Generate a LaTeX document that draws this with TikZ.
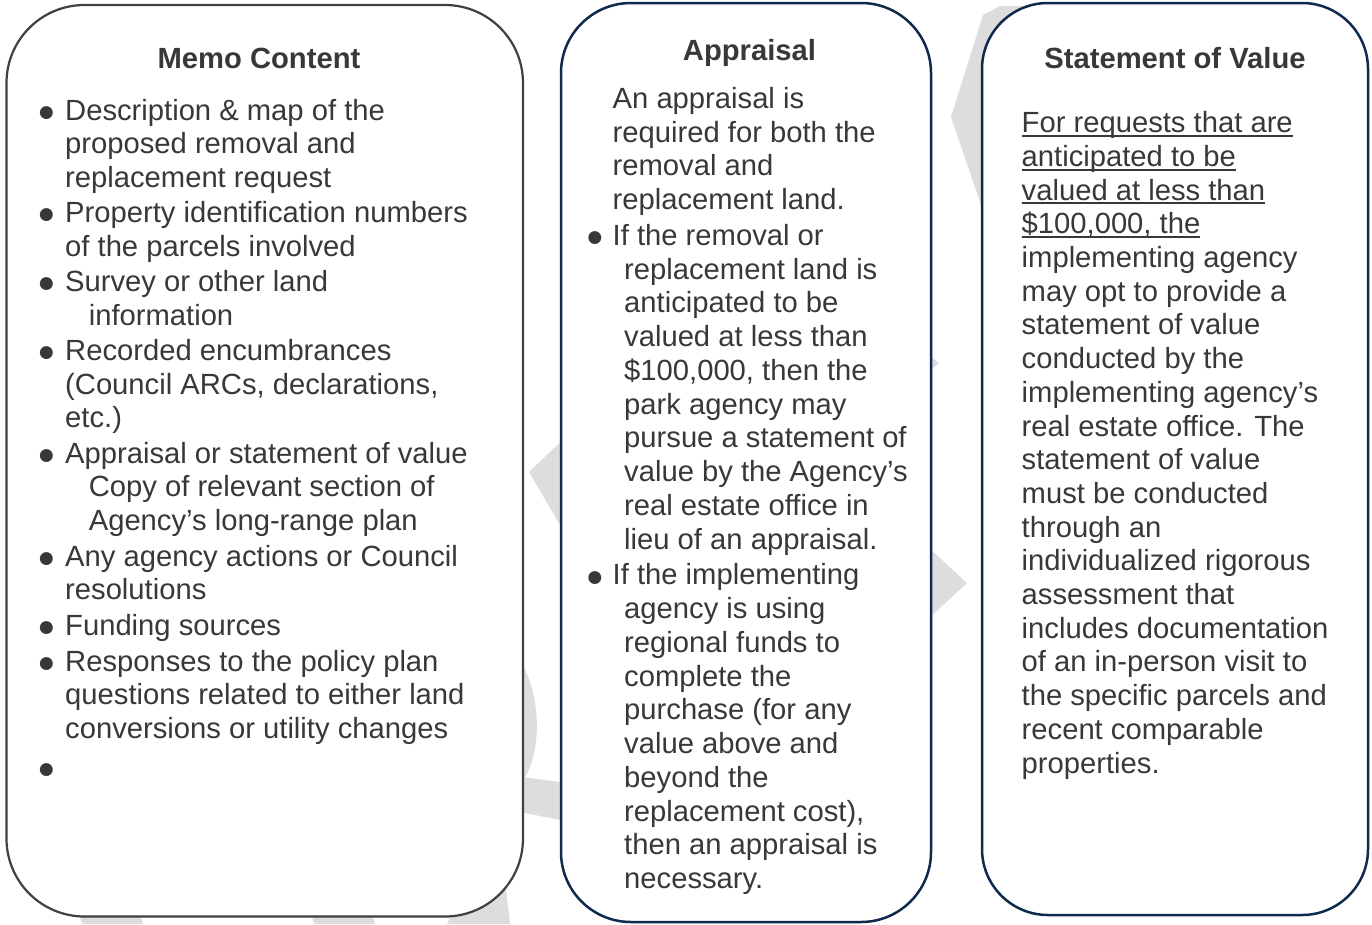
\documentclass[tikz,border=0pt]{standalone}
\usepackage{fontspec}
\setmainfont{Liberation Sans}
\definecolor{txt}{HTML}{383838}
\definecolor{navy}{HTML}{0E2A4D}
\definecolor{edgegray}{HTML}{404040}
\definecolor{wm}{HTML}{DDDDDD}
\newcommand\bodyf{\fontsize{29.2}{33.7}\selectfont}
\newcommand\bulf{\fontsize{30}{30}\selectfont}
\newcommand\ulx[1]{\setbox0=\hbox{#1}\rlap{\rule[-4.3pt]{\wd0}{2pt}}\box0}
\tikzset{
  boxL/.style={draw=edgegray, line width=2.2pt, fill=white, inner sep=0, rounded corners=78pt},
  boxN/.style={draw=navy, line width=2.5pt, fill=white, inner sep=0},
  ln/.style={anchor=base west, inner sep=0, font=\bodyf, text=txt},
  ttl/.style={anchor=base, inner sep=0, font=\bodyf\bfseries, text=txt},
  bul/.style={anchor=base, inner sep=0, font=\bulf, text=txt, yshift=-1.2pt},
}
\begin{document}
\begin{tikzpicture}[x=1pt,y=-1pt]
\useasboundingbox (0,0) rectangle (1372,924);
% watermark pieces
\fill[wm] (983,15) -- (951,117) -- (981,205) -- (1030,205) -- (1000,117) -- (1030,6) -- (1000,6) -- cycle;
\fill[wm] (925,352) -- (939,363) -- (925,375) -- cycle;
\fill[wm] (915,535) -- (967,583) -- (915,631) -- cycle;
\fill[wm] (570,433) -- (529,472) -- (570,542) -- cycle;
\fill[wm] (515,655) .. controls (540,680) and (548,760) .. (515,790) -- cycle;
\fill[wm] (515,776) -- (575,784) -- (575,823) -- (515,811) -- cycle;
\fill[wm] (78,908) -- (138,908) -- (143,924) -- (82,924) -- cycle;
\fill[wm] (310,908) -- (370,908) -- (375,924) -- (314,924) -- cycle;
\fill[wm] (470,880) -- (505,880) -- (510,924) -- (447,924) -- cycle;
% boxes
\node[boxL, minimum width=516.5pt, minimum height=911.5pt] (memo) at (264.75,460.75) {};
\node[boxN, rounded corners=70pt, minimum width=370pt, minimum height=919pt] (appr) at (746,462.5) {};
\node[boxN, rounded corners=66pt, minimum width=386pt, minimum height=912pt] (stmt) at (1175,459) {};
% memo content
\node[ttl] (Lt) at (259,68.5) {Memo Content};
\node[bul] (Lb1) at (46.4,120) {●};
\node[ln] (L1) at (65,120) {Description \& map of the};
\node[ln] (L2) at (65,153.7) {proposed removal and};
\node[ln] (L3) at (65,187.4) {replacement request};
\node[bul] (Lb2) at (46.4,222.5) {●};
\node[ln] (L4) at (65,222.5) {Property identification numbers};
\node[ln] (L5) at (65,256.2) {of the parcels involved};
\node[bul] (Lb3) at (46.4,291.5) {●};
\node[ln] (L6) at (65,291.5) {Survey or other land};
\node[ln] (L7) at (88.6,325.2) {information};
\node[bul] (Lb4) at (46.4,360.5) {●};
\node[ln] (L8) at (65,360.5) {Recorded encumbrances};
\node[ln] (L9) at (65,394.2) {(Council ARCs, declarations,};
\node[ln] (L10) at (65,427.9) {etc.)};
\node[bul] (Lb5) at (46.4,463.2) {●};
\node[ln] (L11) at (65,463.2) {Appraisal or statement of value};
\node[ln] (L12) at (88.6,496.9) {Copy of relevant section of};
\node[ln] (L13) at (88.6,530.6) {Agency’s long-range plan};
\node[bul] (Lb6) at (46.4,566) {●};
\node[ln] (L14) at (65,566) {Any agency actions or Council};
\node[ln] (L15) at (65,599.7) {resolutions};
\node[bul] (Lb7) at (46.4,635.5) {●};
\node[ln] (L16) at (65,635.5) {Funding sources};
\node[bul] (Lb8) at (46.4,671) {●};
\node[ln] (L17) at (65,671) {Responses to the policy plan};
\node[ln] (L18) at (65,704.7) {questions related to either land};
\node[ln] (L19) at (65,738.4) {conversions or utility changes};
\node[bul] (Lb9) at (46.4,777) {●};
% appraisal
\node[ttl] (At) at (749.5,60) {Appraisal};
\node[ln] (A1) at (612.5,108.3) {An appraisal is};
\node[ln] (A2) at (612.5,142) {required for both the};
\node[ln] (A3) at (612.5,175.8) {removal and};
\node[ln] (A4) at (612.5,209.5) {replacement land.};
\node[bul] (Ab1) at (595,245.3) {●};
\node[ln] (A5) at (612.5,245.3) {If the removal or};
\node[ln] (A6) at (624,279) {replacement land is};
\node[ln] (A7) at (624,312.8) {anticipated to be};
\node[ln] (A8) at (624,346.5) {valued at less than};
\node[ln] (A9) at (624,380.3) {\$100,000, then the};
\node[ln] (A10) at (624,414) {park agency may};
\node[ln] (A11) at (624,447.8) {pursue a statement of};
\node[ln] (A12) at (624,481.5) {value by the Agency’s};
\node[ln] (A13) at (624,515.3) {real estate office in};
\node[ln] (A14) at (624,549) {lieu of an appraisal.};
\node[bul] (Ab2) at (595,584.8) {●};
\node[ln] (A15) at (612.5,584.8) {If the implementing};
\node[ln] (A16) at (624,618.5) {agency is using};
\node[ln] (A17) at (624,652.3) {regional funds to};
\node[ln] (A18) at (624,686) {complete the};
\node[ln] (A19) at (624,719.8) {purchase (for any};
\node[ln] (A20) at (624,753.5) {value above and};
\node[ln] (A21) at (624,787.3) {beyond the};
\node[ln] (A22) at (624,821) {replacement cost),};
\node[ln] (A23) at (624,854.8) {then an appraisal is};
\node[ln] (A24) at (624,888.5) {necessary.};
% statement of value
\node[ttl] (St) at (1175,68) {Statement of Value};
\node[ln] (S1) at (1021.5,132.7) {\ulx{For requests that are}};
\node[ln] (S2) at (1021.5,166.4) {\ulx{anticipated to be}};
\node[ln] (S3) at (1021.5,200.1) {\ulx{valued at less than}};
\node[ln] (S4) at (1021.5,233.8) {\ulx{\$100,000, the}};
\node[ln] (S5) at (1021.5,267.5) {implementing agency};
\node[ln] (S6) at (1021.5,301.2) {may opt to provide a};
\node[ln] (S7) at (1021.5,334.9) {statement of value};
\node[ln] (S8) at (1021.5,368.6) {conducted by the};
\node[ln] (S9) at (1021.5,402.3) {implementing agency’s};
\node[ln] (S10) at (1021.5,436) {real estate office. The};
\node[ln] (S11) at (1021.5,469.7) {statement of value};
\node[ln] (S12) at (1021.5,503.4) {must be conducted};
\node[ln] (S13) at (1021.5,537.1) {through an};
\node[ln] (S14) at (1021.5,570.8) {individualized rigorous};
\node[ln] (S15) at (1021.5,604.5) {assessment that};
\node[ln] (S16) at (1021.5,638.2) {includes documentation};
\node[ln] (S17) at (1021.5,671.9) {of an in-person visit to};
\node[ln] (S18) at (1021.5,705.6) {the specific parcels and};
\node[ln] (S19) at (1021.5,739.3) {recent comparable};
\node[ln] (S20) at (1021.5,773) {properties.};
\end{tikzpicture}
\end{document}
